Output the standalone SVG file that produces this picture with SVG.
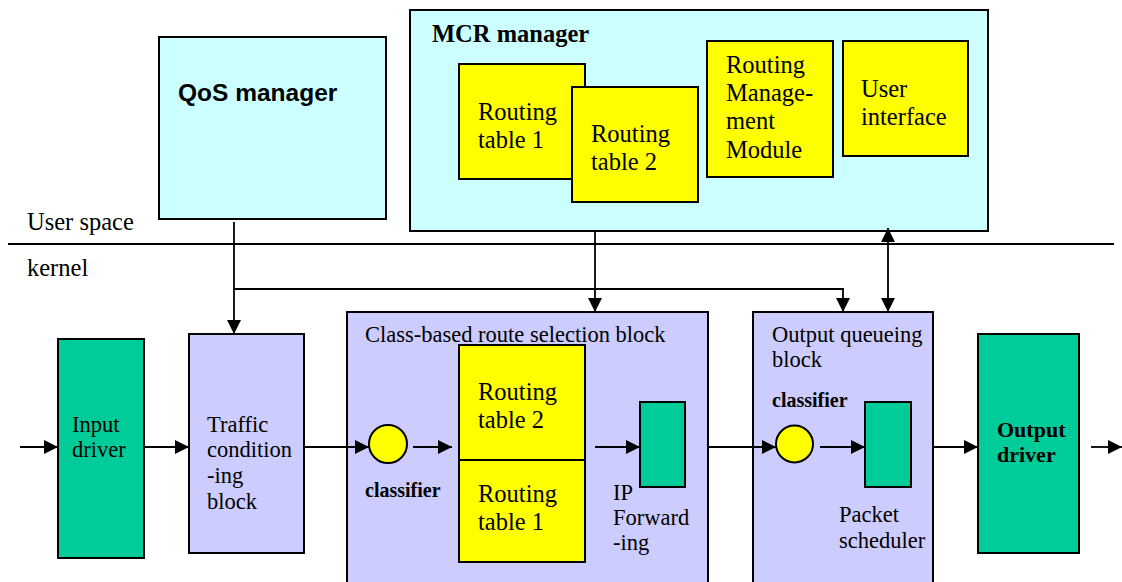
<svg xmlns="http://www.w3.org/2000/svg" width="1122" height="582" viewBox="0 0 1122 582">
  <style>
    .box { stroke: #000; stroke-width: 2; }
    .cyan { fill: #CCFFFF; }
    .yellow { fill: #FFFF00; }
    .green { fill: #00CC99; }
    .lav { fill: #CCCCFF; }
    .serif { font-family: "Liberation Serif", "Times New Roman", serif; fill: #000; }
    .big { font-size: 24.5px; }
    .mid { font-size: 22.5px; }
    .bold { font-weight: bold; }
    .sans { font-family: "Liberation Sans", Arial, sans-serif; font-weight: bold; font-size: 24.5px; fill: #000; }
    .wire { fill: none; stroke: #000; stroke-width: 1.8; }
    .arrow { marker-end: url(#head); }
  </style>
  <defs>
    <marker id="head" viewBox="0 0 14 14" refX="14" refY="7" markerWidth="14" markerHeight="14" markerUnits="userSpaceOnUse" orient="auto-start-reverse">
      <path d="M0,0 L14,7 L0,14 z" fill="#000"/>
    </marker>
  </defs>

  <rect width="1122" height="582" fill="#fff"/>

  <!-- user space / kernel divider -->
  <g id="divider">
    <line x1="8" y1="244" x2="1114" y2="244" class="wire"/>
    <text x="27" y="230" class="serif big">User space</text>
    <text x="27" y="276" class="serif big">kernel</text>
  </g>

  <g id="qos-manager">
    <rect x="159" y="37" width="227" height="182" class="box cyan"/>
    <text x="178" y="101" class="sans">QoS manager</text>
  </g>

  <g id="mcr-manager">
    <rect x="410" y="10" width="578" height="221" class="box cyan"/>
    <text x="432" y="42" class="serif big bold">MCR manager</text>
  </g>

  <g id="mcr-routing-table-1">
    <rect x="459" y="64" width="126" height="115" class="box yellow"/>
    <text class="serif big"><tspan x="478" y="120">Routing</tspan><tspan x="478" y="148">table 1</tspan></text>
  </g>

  <g id="mcr-routing-table-2">
    <rect x="572" y="87" width="126" height="115" class="box yellow"/>
    <text class="serif big"><tspan x="591" y="142">Routing</tspan><tspan x="591" y="170">table 2</tspan></text>
  </g>

  <g id="routing-management-module">
    <rect x="707" y="41" width="126" height="136" class="box yellow"/>
    <text class="serif big"><tspan x="726" y="73">Routing</tspan><tspan x="726" y="101">Manage-</tspan><tspan x="726" y="129">ment</tspan><tspan x="726" y="158">Module</tspan></text>
  </g>

  <g id="user-interface">
    <rect x="843" y="41" width="125" height="115" class="box yellow"/>
    <text class="serif big"><tspan x="861" y="97">User</tspan><tspan x="861" y="125">interface</tspan></text>
  </g>

  <g id="input-driver">
    <rect x="58" y="339" width="86" height="219" class="box green"/>
    <text class="serif mid"><tspan x="72" y="432">Input</tspan><tspan x="72" y="457">driver</tspan></text>
  </g>

  <g id="traffic-conditioning">
    <rect x="189" y="334" width="115" height="219" class="box lav"/>
    <text class="serif mid"><tspan x="207" y="432">Traffic</tspan><tspan x="207" y="457">condition</tspan><tspan x="207" y="483">-ing</tspan><tspan x="207" y="509">block</tspan></text>
  </g>

  <g id="route-selection-block">
    <rect x="347" y="312" width="361" height="290" class="box lav"/>
    <text x="365" y="342" class="serif mid">Class-based route selection block</text>
  </g>

  <g id="route-classifier">
    <circle cx="388" cy="444" r="19" class="box yellow"/>
    <text x="365" y="497" class="serif bold" font-size="20">classifier</text>
  </g>

  <g id="kernel-routing-table-2">
    <rect x="459" y="345" width="126" height="115" class="box yellow"/>
    <text class="serif big"><tspan x="478" y="400">Routing</tspan><tspan x="478" y="428">table 2</tspan></text>
  </g>

  <g id="kernel-routing-table-1">
    <rect x="459" y="460" width="126" height="102" class="box yellow"/>
    <text class="serif big"><tspan x="478" y="502">Routing</tspan><tspan x="478" y="530">table 1</tspan></text>
  </g>

  <g id="ip-forwarding">
    <rect x="640" y="402" width="45" height="85" class="box green"/>
    <text class="serif mid"><tspan x="613" y="500">IP</tspan><tspan x="613" y="525">Forward</tspan><tspan x="613" y="550">-ing</tspan></text>
  </g>

  <g id="output-queueing-block">
    <rect x="753" y="312" width="180" height="290" class="box lav"/>
    <text class="serif mid"><tspan x="772" y="342">Output queueing</tspan><tspan x="772" y="367">block</tspan></text>
  </g>

  <g id="queue-classifier">
    <circle cx="794.5" cy="444" r="18.5" class="box yellow"/>
    <text x="772" y="407" class="serif bold" font-size="20">classifier</text>
  </g>

  <g id="packet-scheduler">
    <rect x="865" y="402" width="46" height="85" class="box green"/>
    <text class="serif mid"><tspan x="839" y="522">Packet</tspan><tspan x="839" y="548">scheduler</tspan></text>
  </g>

  <g id="output-driver">
    <rect x="978" y="334" width="101" height="219" class="box green"/>
    <text class="serif bold" font-size="22"><tspan x="997" y="437">Output</tspan><tspan x="997" y="462">driver</tspan></text>
  </g>

  <g id="connectors">
    <!-- control paths from user space -->
    <path d="M234,222 V334" class="wire arrow"/>
    <path d="M234,289 H843 V312" class="wire arrow"/>
    <path d="M595,231 V312" class="wire arrow"/>
    <path d="M888,228 V312" class="wire arrow" marker-start="url(#head)"/>
    <!-- packet data path -->
    <path d="M20,447 H58" class="wire arrow"/>
    <path d="M144,447 H189" class="wire arrow"/>
    <path d="M304,447 H369" class="wire arrow"/>
    <path d="M413,447 H452" class="wire arrow"/>
    <path d="M595,447 H640" class="wire arrow"/>
    <path d="M708,447 H776" class="wire arrow"/>
    <path d="M820,447 H865" class="wire arrow"/>
    <path d="M933,447 H978" class="wire arrow"/>
    <path d="M1091,447 H1122" class="wire arrow"/>
  </g>
</svg>
